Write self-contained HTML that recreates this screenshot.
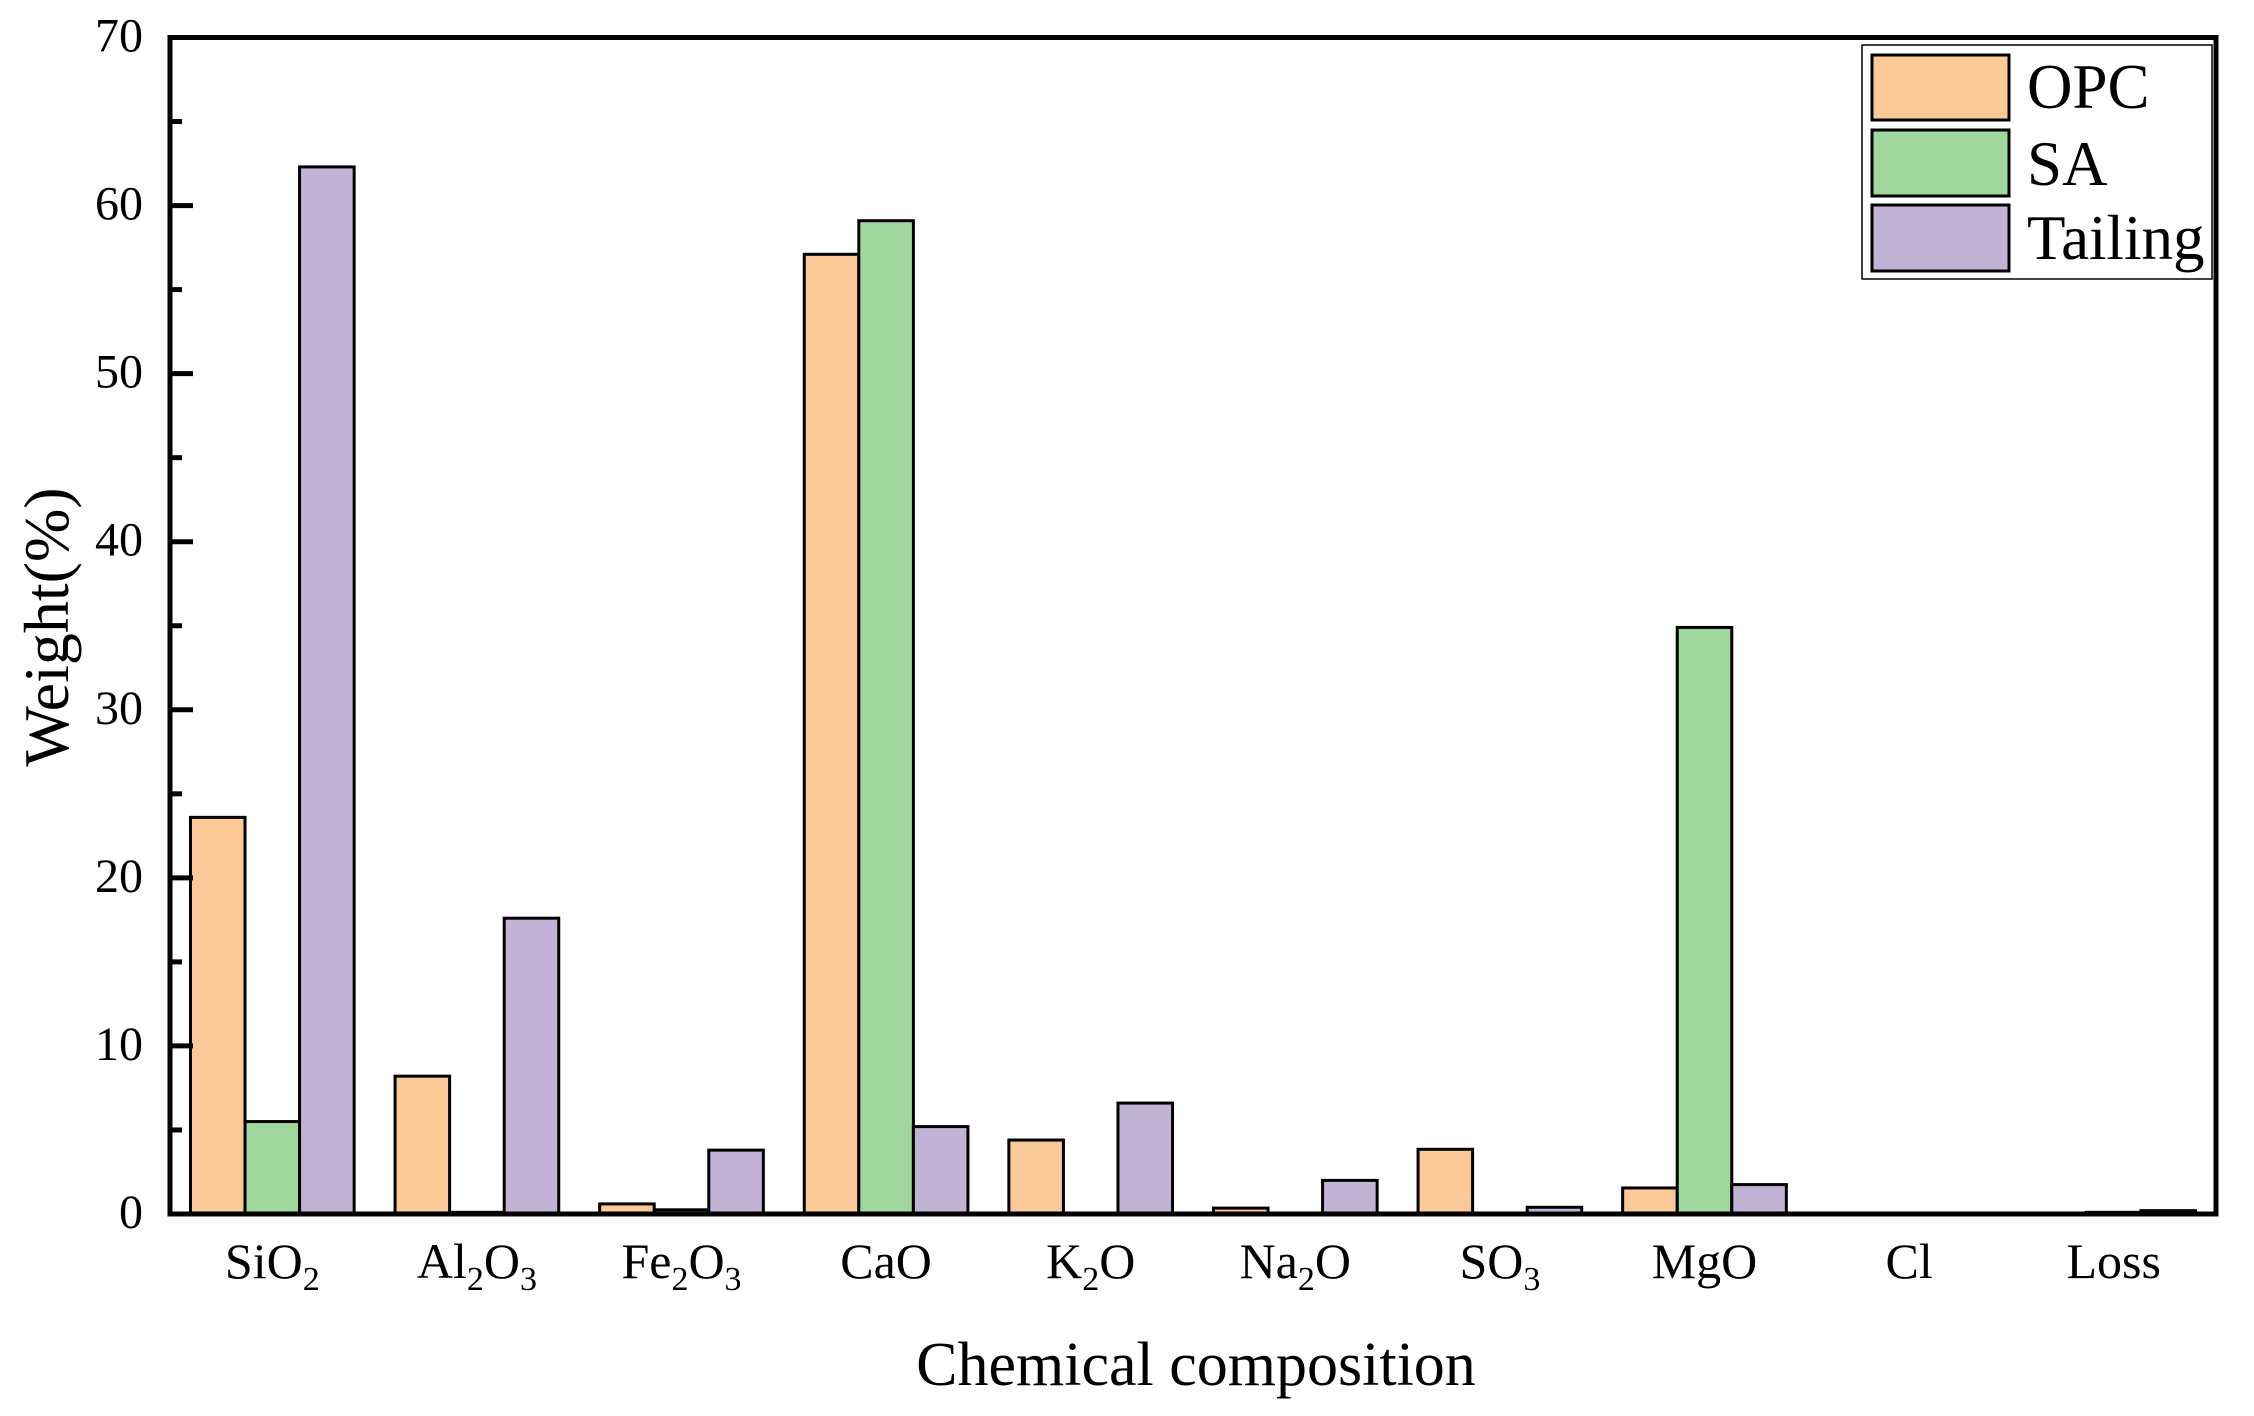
<!DOCTYPE html>
<html><head><meta charset="utf-8"><style>
html,body{margin:0;padding:0;background:#fff;}
svg{display:block;font-family:"Liberation Serif",serif;}
</style></head><body>
<svg id="chart" width="2254" height="1416" viewBox="0 0 2254 1416">
<g id="bars"></g>
<g id="axes"></g>
<text x="1196" y="1385" font-size="62" text-anchor="middle">Chemical composition</text>
<text x="0" y="0" font-size="64" text-anchor="middle" transform="translate(68,627) rotate(-90)">Weight(%)</text>
<g>
<rect x="1862" y="45" width="350" height="234" fill="#fff" stroke="#000" stroke-width="1.5"/>
<rect x="1872" y="55" width="137" height="65" fill="#FBC998" stroke="#000" stroke-width="3"/>
<text x="2027" y="108" font-size="63">OPC</text>
<rect x="1872" y="130" width="137" height="66" fill="#9FD79C" stroke="#000" stroke-width="3"/>
<text x="2027" y="185" font-size="63">SA</text>
<rect x="1872" y="205" width="137" height="66" fill="#C2B2D6" stroke="#000" stroke-width="3"/>
<text x="2027" y="259" font-size="63">Tailing</text>
</g>
</svg>
<script>
const categories = ["SiO2","Al2O3","Fe2O3","CaO","K2O","Na2O","SO3","MgO","Cl","Loss"];
const opcValues = [23.6, 8.2, 0.6, 57.1, 4.4, 0.35, 3.85, 1.55, 0, 0.05];
const saValues = [5.5, 0.1, 0.25, 59.1, 0, 0, 0, 34.9, 0, 0.1];
const tailingValues = [62.3, 17.6, 3.8, 5.2, 6.6, 2.0, 0.4, 1.75, 0, 0.2];
const yTicks = [0, 10, 20, 30, 40, 50, 60, 70];
const seriesNames = ["opc","sa","tailing"];
const seriesColors = ["#FBC998","#9FD79C","#C2B2D6"];

const NS = "http://www.w3.org/2000/svg";
const X0 = 170, X1 = 2216, Y0 = 1214, Y1 = 37.5, YMAX = 70;
const catW = (X1 - X0) / categories.length;
const barW = catW * 0.8 / 3;
function yScale(v){ return Y0 - (v / YMAX) * (Y0 - Y1); }
function xCenter(i){ return X0 + catW * (i + 0.5); }
function mk(tag, attrs, parent){
  const e = document.createElementNS(NS, tag);
  for (const k in attrs) e.setAttribute(k, attrs[k]);
  parent.appendChild(e);
  return e;
}
const bars = document.getElementById("bars");
const axes = document.getElementById("axes");
const allSeries = [opcValues, saValues, tailingValues];
allSeries.forEach((vals, s) => {
  vals.forEach((v, i) => {
    const x = xCenter(i) - 1.5 * barW + s * barW;
    const y = yScale(v);
    const r = mk("rect", {x: x, y: y, width: barW, height: Math.max(0, Y0 - y), fill: seriesColors[s], stroke: "#000", "stroke-width": 3}, bars);
    
    
  });
});
const frame = mk("rect", {x: X0, y: Y1, width: X1 - X0, height: Y0 - Y1, fill: "none", stroke: "#000", "stroke-width": 5}, axes);


yTicks.forEach(t => {
  const y = yScale(t);
  const tk = mk("line", {x1: X0, x2: X0 + 23, y1: y, y2: y, stroke: "#000", "stroke-width": 5}, axes);
  
  
  const lb = mk("text", {x: 143, y: y + 14, "font-size": 48, "text-anchor": "end"}, axes);
  lb.textContent = String(t);
  
  
  if (t < YMAX) {
    const ym = yScale(t + 5);
    const mt = mk("line", {x1: X0, x2: X0 + 12, y1: ym, y2: ym, stroke: "#000", "stroke-width": 5}, axes);
    
    
  }
});
categories.forEach((c, i) => {
  const t = mk("text", {x: xCenter(i), y: 1278, "font-size": 50, "text-anchor": "middle"}, axes);
  
  
  const parts = c.match(/[A-Za-z]+|\d+/g);
  parts.forEach(p => {
    const sp = document.createElementNS(NS, "tspan");
    sp.textContent = p;
    if (/^\d+$/.test(p)) { sp.setAttribute("font-size", 34); sp.setAttribute("dy", 12); }
    else if (t.childNodes.length) { sp.setAttribute("dy", -12); }
    t.appendChild(sp);
  });
});
</script>
</body></html>
